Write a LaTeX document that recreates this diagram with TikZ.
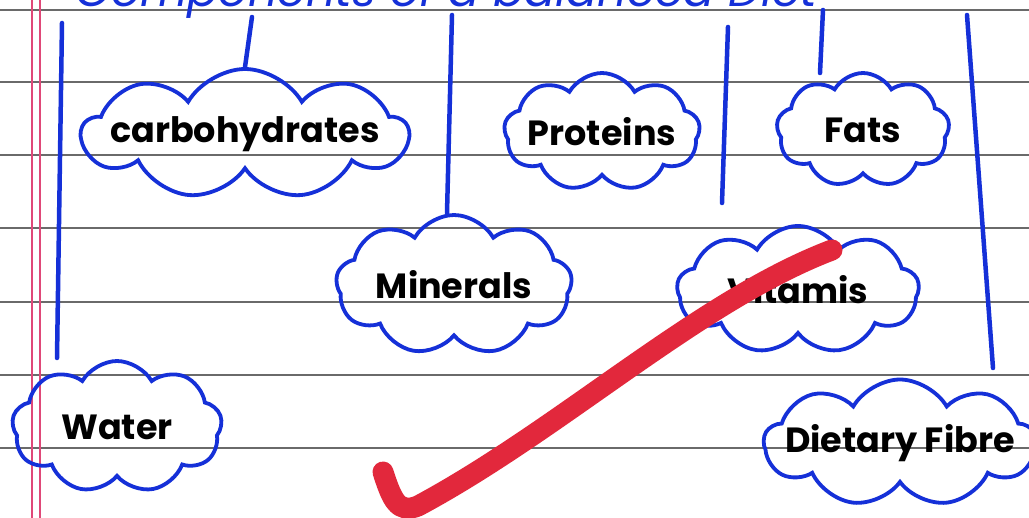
\documentclass[tikz,border=0pt]{standalone}
\usepackage{fontspec}
\setmainfont{Poppins}
\usetikzlibrary{shapes.symbols}
\definecolor{ink}{HTML}{1530D8}
\definecolor{rule}{HTML}{6A6A6A}
\definecolor{margin}{HTML}{E04878}
\definecolor{tick}{HTML}{E2283C}
\newcommand{\cloudtext}[1]{\makebox[0pt]{#1}}
\tikzset{
  rulingline/.style={rule, line width=1.3pt},
  marginline/.style={margin, line width=1.4pt},
  branch/.style={ink, line width=4.5pt, line cap=round},
  puff/.style={cloud, draw=ink, line width=3.8pt, cloud puffs=9, cloud puff arc=120,
    cloud ignores aspect, inner sep=0pt, font=\fontsize{35}{35}\selectfont\bfseries, text=black},
  checkmark/.style={tick, line width=21pt, line cap=round, line join=round},
}
\begin{document}
\begin{tikzpicture}[x=1pt, y=-1pt]
\clip (0,0) rectangle (1029,518);
\fill[white] (0,0) rectangle (1029,518);
% ruled lines
\foreach \yy in {10,82,155,228,302,375,448}
  \draw[rulingline] (0,\yy) -- (1029,\yy);
% margin
\draw[marginline] (32,0) -- (32,518);
\draw[marginline] (40,0) -- (40,518);
% title (cut off at top, as in the notebook photo)
\node[ink, anchor=base west, font=\fontsize{46}{46}\selectfont\itshape] (title) at (72,7) {Components of a balanced Diet};
% clouds
\node[puff, minimum width=326pt, minimum height=130pt] (carb) at (245,134) {\cloudtext{carbohydrates}};
\node[puff, minimum width=196pt, minimum height=118pt] (prot) at (602,132) {\cloudtext{Proteins}};
\node[puff, minimum width=173pt, minimum height=114pt] (fats) at (863,130) {\cloudtext{Fats}};
\node[puff, minimum width=236pt, minimum height=140pt] (mine) at (454,285) {\cloudtext{Minerals}};
\node[puff, minimum width=242pt, minimum height=128pt] (vita) at (798,290) {\cloudtext{Vitamis}};
\node[puff, minimum width=210pt, minimum height=132pt] (wate) at (117,427) {\cloudtext{Water}};
\node[puff, minimum width=272pt, minimum height=127pt] (diet) at (900,443) {\cloudtext{Dietary Fibre}};
% branch lines
\coordinate (l1a) at (62,23);  \coordinate (l1b) at (57,358);
\coordinate (l2a) at (252,17);
\coordinate (l3a) at (452,15); \coordinate (l3b) at (447,213);
\coordinate (l4a) at (728,27); \coordinate (l4b) at (722,203);
\coordinate (l5a) at (823,10); \coordinate (l5b) at (820,73);
\coordinate (l6a) at (967,15); \coordinate (l6b) at (993,368);
\draw[branch] (l1a) -- (l1b);
\draw[branch] (l2a) -- (carb.north);
\draw[branch] (l3a) -- (l3b);
\draw[branch] (l4a) -- (l4b);
\draw[branch] (l5a) -- (l5b);
\draw[branch] (l6a) -- (l6b);
% red tick
\coordinate (t0) at (383,472);
\coordinate (t1) at (418,506);
\coordinate (t2) at (832,250);
\draw[checkmark] (t0) .. controls (392,500) and (398,514) .. (t1)
  .. controls (560,430) and (700,300) .. (t2);
\end{tikzpicture}
\end{document}
